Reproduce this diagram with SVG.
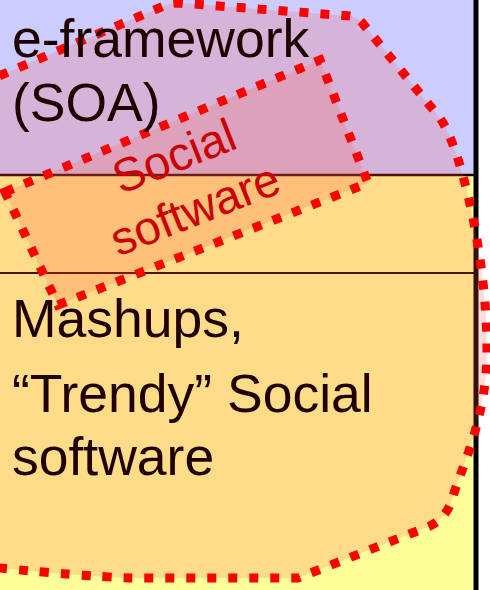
<svg xmlns="http://www.w3.org/2000/svg" width="490" height="590" viewBox="0 0 490 590">
  <style>
    .band-line { stroke: #1e0000; fill: none; }
    .zone { fill: rgb(255,85,68); fill-opacity: 0.2; stroke: #ff0000; stroke-width: 9; stroke-dasharray: 9 12; stroke-linejoin: miter; }
    .label { font-family: "Liberation Sans", Arial, sans-serif; font-size: 53.5px; fill: #1e0000; }
    .zone-label { font-family: "Liberation Sans", Arial, sans-serif; font-size: 47px; fill: #cc0000; text-anchor: middle; }
  </style>

  <!-- page background and layer bands -->
  <rect x="0" y="0" width="490" height="590" fill="#ffffff"/>
  <rect id="band-soa" x="0" y="0" width="476" height="175" fill="#ccccff"/>
  <rect id="band-web" x="0" y="175" width="476" height="415" fill="#ffff99"/>
  <line class="band-line" x1="0" y1="175" x2="476" y2="175" stroke-width="2.5"/>
  <line class="band-line" x1="0" y1="273" x2="476" y2="273" stroke-width="2"/>
  <line x1="476" y1="0" x2="476" y2="590" stroke="#000000" stroke-width="5"/>

  <!-- large dotted region -->
  <g id="framework-region">
    <path class="zone" d="M -20,84 L 166,5 Q 172,3 180,3 L 350,16 Q 358,17 364,25 L 440,118 C 462,150 487,260 487,350 C 487,420 460,470 452,500 Q 446,518 430,526 L 298,578 L 130,578 Q 80,576 0,568 L -20,566 Z"/>
  </g>

  <!-- social software tilted box -->
  <g id="social-software">
    <polygon class="zone" points="5,192 320,60 368,183 58,305"/>
    <g transform="translate(191,199) rotate(-21.5)">
      <text class="zone-label" x="0" y="-30">Social</text>
      <text class="zone-label" x="0" y="27">software</text>
    </g>
  </g>

  <g id="e-framework">
    <text class="label" x="12" y="57">e-framework</text>
    <text class="label" x="12" y="121">(SOA)</text>
  </g>

  <g id="mashups">
    <text class="label" x="12" y="337">Mashups,</text>
    <text class="label" x="12" y="412">“Trendy” Social</text>
    <text class="label" x="12" y="475">software</text>
  </g>
</svg>
